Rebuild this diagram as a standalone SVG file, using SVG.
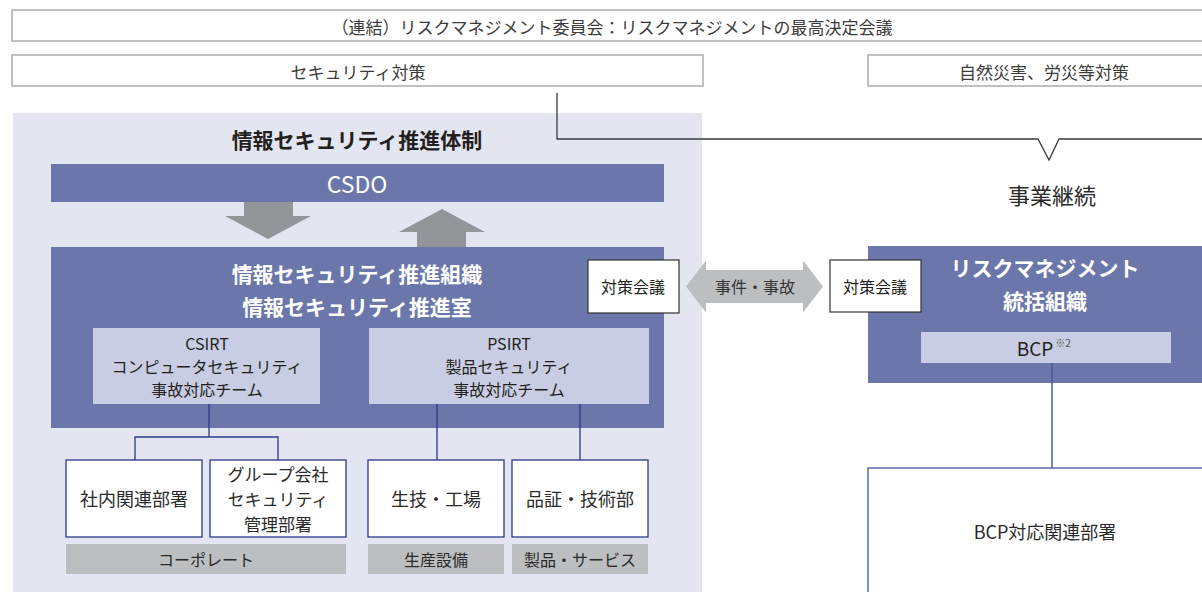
<svg xmlns="http://www.w3.org/2000/svg" width="1202" height="592" viewBox="0 0 1202 592">
<style>
text{font-family:"Noto Sans CJK JP","Noto Sans",sans-serif;text-anchor:middle;dominant-baseline:central}
.hdr{fill:#fff;stroke:#bfc0c2;stroke-width:2}
.hdrt{font-size:17px;fill:#3c3c3c}
.dark{fill:#6b77aa}
.light{fill:#c8cde3}
.wt{fill:#fff;font-weight:bold;font-size:21px}
.bt{fill:#231f20;font-size:16px}
.unit{fill:#fff;stroke:#2b3a8a;stroke-width:1.3}
.ut{fill:#2a2a2a;font-size:18px}
.ut3{fill:#2a2a2a;font-size:17px}
.bar{fill:#bcbec0}
.bart{fill:#2a2a2a;font-size:16px}
.meet{fill:#fff;stroke:#333;stroke-width:1.2}
.mt{fill:#231f20;font-size:16px}
.nv{stroke:#2b3a8a;stroke-width:1.3;fill:none}
</style>
<rect x="0" y="0" width="1202" height="592" fill="#fff"/>
<g id="committee">
<rect class="hdr" x="12" y="10" width="1210" height="31"/>
<text class="hdrt" x="612" y="26">（連結）リスクマネジメント委員会：リスクマネジメントの最高決定会議</text>
</g>
<g id="security-measures">
<rect class="hdr" x="12" y="55" width="691" height="31"/>
<text class="hdrt" x="358" y="71">セキュリティ対策</text>
</g>
<g id="disaster-measures">
<rect class="hdr" x="868" y="55" width="360" height="31"/>
<text class="hdrt" x="1044" y="71">自然災害、労災等対策</text>
</g>
<g id="infosec-panel">
<rect x="13" y="113" width="689" height="479" fill="#e3e5f1"/>
<text x="357" y="139" font-size="21" font-weight="bold" fill="#231f20">情報セキュリティ推進体制</text>
</g>
<g id="csdo">
<rect class="dark" x="51" y="164" width="613" height="38"/>
<text x="357" y="183" font-size="23" fill="#fff" font-family="Noto Sans, sans-serif">CSDO</text>
</g>
<g id="flow-arrows">
<polygon points="244,202 293,202 293,216 311,216 268,239 225,216 244,216" fill="#939598"/>
<polygon points="442,209 485,232 466,232 466,247 417,247 417,232 399,232" fill="#939598"/>
</g>
<g id="infosec-org">
<rect class="dark" x="51" y="247" width="613" height="181"/>
<text class="wt" x="357" y="273">情報セキュリティ推進組織</text>
<text class="wt" x="357" y="306">情報セキュリティ推進室</text>
</g>
<g id="csirt">
<rect class="light" x="93" y="328" width="227" height="76"/>
<text class="bt" x="207" y="343">CSIRT</text>
<text class="bt" x="207" y="366">コンピュータセキュリティ</text>
<text class="bt" x="207" y="389">事故対応チーム</text>
</g>
<g id="psirt">
<rect class="light" x="369" y="328" width="280" height="76"/>
<text class="bt" x="509" y="343">PSIRT</text>
<text class="bt" x="509" y="366">製品セキュリティ</text>
<text class="bt" x="509" y="389">事故対応チーム</text>
</g>
<g id="meeting-left">
<rect class="meet" x="588" y="260" width="91" height="53"/>
<text class="mt" x="633" y="286">対策会議</text>
</g>
<g id="incident-arrow">
<polygon points="686,286.5 706,260.5 706,270 803,270 803,260.5 823,286.5 803,312.5 803,303 706,303 706,312.5" fill="#bcbec0"/>
<text x="755" y="286" font-size="16" fill="#333">事件・事故</text>
</g>
<g id="risk-org">
<rect class="dark" x="868" y="246" width="360" height="137"/>
<text class="wt" x="1045" y="267">リスクマネジメント</text>
<text class="wt" x="1045" y="300">統括組織</text>
</g>
<g id="meeting-right">
<rect class="meet" x="830" y="260" width="91" height="52"/>
<text class="mt" x="875" y="286">対策会議</text>
</g>
<g id="bcp">
<rect class="light" x="921" y="332" width="250" height="31"/>
<text x="1035" y="347" font-size="19" fill="#231f20" font-family="Noto Sans, sans-serif">BCP</text>
<text x="1063" y="342" font-size="10" fill="#555">※2</text>
</g>
<g id="bcp-depts">
<rect x="868" y="468" width="360" height="140" fill="#fff" stroke="#5b6aa8" stroke-width="1.5"/>
<text x="1045" y="531" font-size="18" fill="#2a2a2a">BCP対応関連部署</text>
</g>
<g id="internal-depts">
<rect class="unit" x="66" y="460" width="136" height="77"/>
<text class="ut" x="134" y="498">社内関連部署</text>
</g>
<g id="group-security">
<rect class="unit" x="210" y="460" width="136" height="77"/>
<text class="ut3" x="278" y="473">グループ会社</text>
<text class="ut3" x="278" y="498">セキュリティ</text>
<text class="ut3" x="278" y="523">管理部署</text>
</g>
<g id="production">
<rect class="unit" x="368" y="460" width="136" height="77"/>
<text class="ut" x="436" y="498">生技・工場</text>
</g>
<g id="quality">
<rect class="unit" x="512" y="460" width="136" height="77"/>
<text class="ut" x="580" y="498">品証・技術部</text>
</g>
<g id="category-labels">
<rect class="bar" x="66" y="544" width="280" height="30"/>
<text class="bart" x="206" y="559">コーポレート</text>
<rect class="bar" x="368" y="544" width="136" height="30"/>
<text class="bart" x="436" y="559">生産設備</text>
<rect class="bar" x="512" y="544" width="136" height="30"/>
<text class="bart" x="580" y="559">製品・サービス</text>
</g>
<g id="connectors">
<polyline points="557,93 557,139 1038,139 1049,160 1059,139 1202,139" fill="none" stroke="#3a3a3a" stroke-width="1.3"/>
<text x="1052" y="194" font-size="22" fill="#2a2a2a">事業継続</text>
<polyline class="nv" points="209,404 209,437"/>
<polyline class="nv" points="135,460 135,437 278,437 278,460"/>
<line class="nv" x1="437" y1="404" x2="437" y2="460"/>
<line class="nv" x1="580" y1="404" x2="580" y2="460"/>
<line x1="1052" y1="363" x2="1052" y2="468" stroke="#4a5a9a" stroke-width="1.5"/>
</g>
</svg>
